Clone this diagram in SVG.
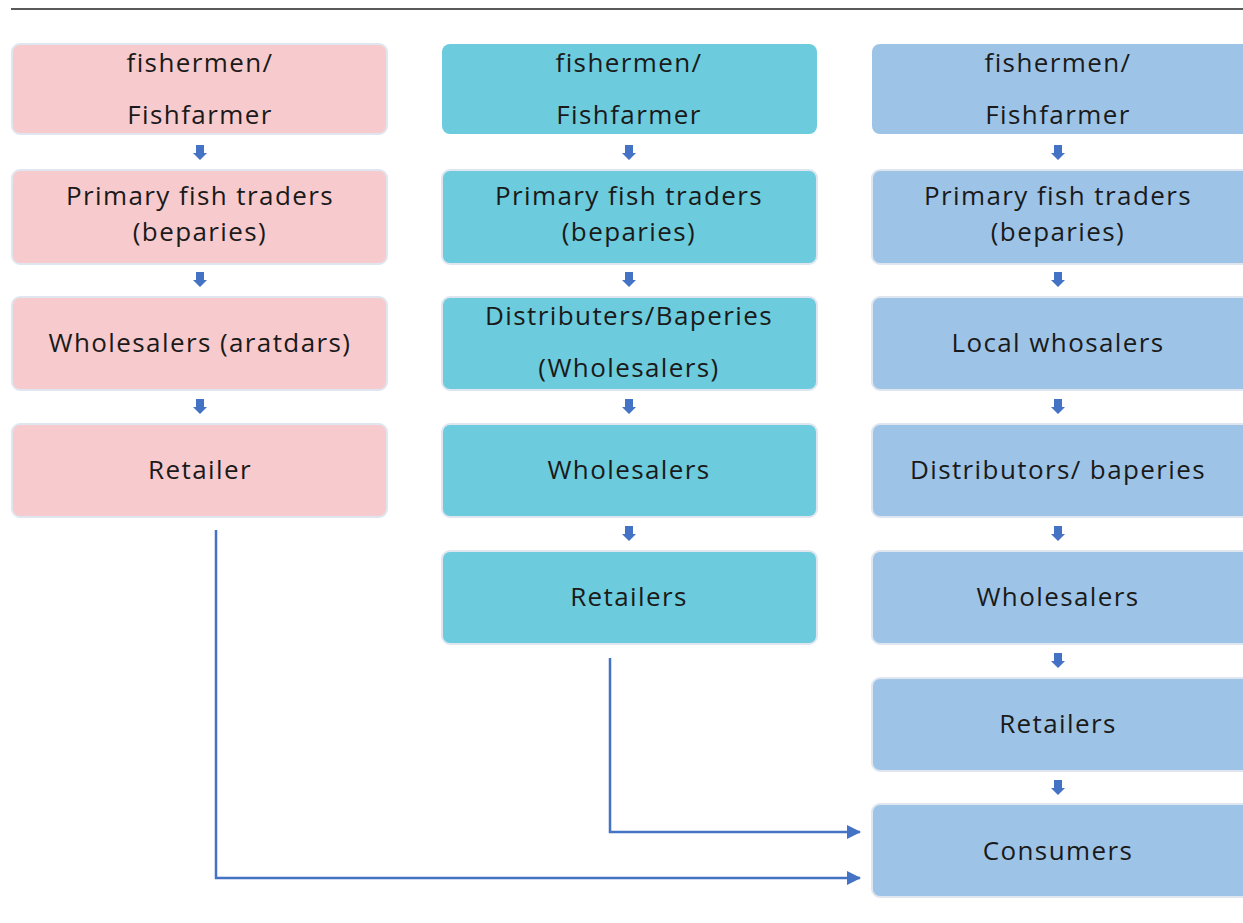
<svg xmlns="http://www.w3.org/2000/svg" width="1243" height="923" viewBox="0 0 1243 923">
<defs>
<style>
.b{stroke:#dfe6f0;stroke-width:2}
.p{fill:#F7CACD}
.t{fill:#6CCBDC}
.l{fill:#9DC4E7}
text{font-family:"Open Sans","Liberation Sans",sans-serif;font-size:26px;letter-spacing:1.4px;fill:#1a1a1a;text-anchor:middle}
.sa{fill:#4472C4}
.c{fill:none;stroke:#4472C4;stroke-width:2.5}
</style>
<marker id="ah" markerWidth="14" markerHeight="14" refX="13" refY="7" orient="auto" markerUnits="userSpaceOnUse" viewBox="0 0 14 14">
<path d="M0,0 L14,7 L0,14 z" fill="#4472C4"/>
</marker>
<path id="dn" d="M-4,0 H4 V8 H7 L0,15 L-7,8 H-4 z"/>
</defs>
<rect width="1243" height="923" fill="#fff"/>
<line x1="11" y1="9" x2="1243" y2="9" stroke="#222" stroke-width="1.5"/>

<g id="col1">
<g id="c1n1"><rect class="p b" x="12" y="44" width="375" height="90" rx="8"/><text x="200" y="72">fishermen/</text><text x="200" y="124">Fishfarmer</text></g>
<g id="c1n2"><rect class="p b" x="12" y="170" width="375" height="94" rx="8"/><text x="200" y="205">Primary fish traders</text><text x="200" y="241">(beparies)</text></g>
<g id="c1n3"><rect class="p b" x="12" y="297" width="375" height="93" rx="8"/><text x="200" y="352">Wholesalers (aratdars)</text></g>
<g id="c1n4"><rect class="p b" x="12" y="424" width="375" height="93" rx="8"/><text x="200" y="479">Retailer</text></g>
</g>

<g id="col2">
<g id="c2n1"><rect class="t" x="442" y="44" width="375" height="90" rx="8"/><text x="629" y="72">fishermen/</text><text x="629" y="124">Fishfarmer</text></g>
<g id="c2n2"><rect class="t b" x="442" y="170" width="375" height="94" rx="8"/><text x="629" y="205">Primary fish traders</text><text x="629" y="241">(beparies)</text></g>
<g id="c2n3"><rect class="t b" x="442" y="297" width="375" height="93" rx="8"/><text x="629" y="325">Distributers/Baperies</text><text x="629" y="377">(Wholesalers)</text></g>
<g id="c2n4"><rect class="t b" x="442" y="424" width="375" height="93" rx="8"/><text x="629" y="479">Wholesalers</text></g>
<g id="c2n5"><rect class="t b" x="442" y="551" width="375" height="93" rx="8"/><text x="629" y="606">Retailers</text></g>
</g>

<g id="col3">
<g id="c3n1"><rect class="l" x="872" y="44" width="380" height="90" rx="8"/><text x="1058" y="72">fishermen/</text><text x="1058" y="124">Fishfarmer</text></g>
<g id="c3n2"><rect class="l b" x="872" y="170" width="380" height="94" rx="8"/><text x="1058" y="205">Primary fish traders</text><text x="1058" y="241">(beparies)</text></g>
<g id="c3n3"><rect class="l b" x="872" y="297" width="380" height="93" rx="8"/><text x="1058" y="352">Local whosalers</text></g>
<g id="c3n4"><rect class="l b" x="872" y="424" width="380" height="93" rx="8"/><text x="1058" y="479">Distributors/ baperies</text></g>
<g id="c3n5"><rect class="l b" x="872" y="551" width="380" height="93" rx="8"/><text x="1058" y="606">Wholesalers</text></g>
<g id="c3n6"><rect class="l b" x="872" y="678" width="380" height="93" rx="8"/><text x="1058" y="733">Retailers</text></g>
<g id="c3n7"><rect class="l b" x="872" y="804" width="380" height="93" rx="8"/><text x="1058" y="860">Consumers</text></g>
</g>

<g id="connectors">
<use href="#dn" class="sa" x="200" y="145"/>
<use href="#dn" class="sa" x="200" y="272"/>
<use href="#dn" class="sa" x="200" y="399"/>
<use href="#dn" class="sa" x="629" y="145"/>
<use href="#dn" class="sa" x="629" y="272"/>
<use href="#dn" class="sa" x="629" y="399"/>
<use href="#dn" class="sa" x="629" y="526"/>
<use href="#dn" class="sa" x="1058" y="145"/>
<use href="#dn" class="sa" x="1058" y="272"/>
<use href="#dn" class="sa" x="1058" y="399"/>
<use href="#dn" class="sa" x="1058" y="526"/>
<use href="#dn" class="sa" x="1058" y="653"/>
<use href="#dn" class="sa" x="1058" y="780"/>
<polyline class="c" points="216,530 216,878 860,878" marker-end="url(#ah)"/>
<polyline class="c" points="610,658 610,832 860,832" marker-end="url(#ah)"/>
</g>
</svg>
